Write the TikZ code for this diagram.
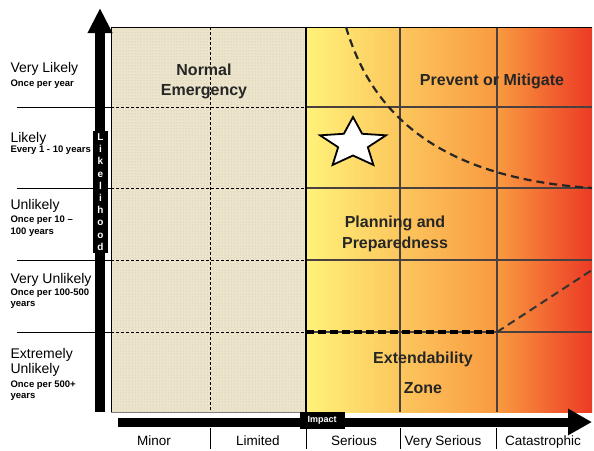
\documentclass[tikz,border=0pt]{standalone}
\usepackage{fontspec}
\setmainfont{Liberation Sans}
\usetikzlibrary{arrows.meta,patterns}
\definecolor{beige}{HTML}{ECE4CB}
\definecolor{lowyellow}{HTML}{FFF27A}
\definecolor{midorange}{HTML}{F99A40}
\definecolor{hotred}{HTML}{EC3A25}
\definecolor{gridgray}{HTML}{4A4040}
\begin{document}
\begin{tikzpicture}[x=1pt,y=-1pt,
  zone/.style={anchor=base,font=\bfseries\fontsize{16}{18}\selectfont,text=black!85},
  rowname/.style={anchor=base west,font=\fontsize{14}{16}\selectfont},
  rowfreq/.style={anchor=base west,font=\bfseries\fontsize{9.5}{11}\selectfont},
  colname/.style={anchor=base,font=\fontsize{13.5}{15}\selectfont}]
\useasboundingbox (0,0) rectangle (594,450);
% background of the matrix
\fill[beige] (111,27) rectangle (306,412);
\fill[pattern=dots,pattern color=beige!85!black] (111,27) rectangle (306,412);
\shade[left color=lowyellow,right color=midorange] (306,27) rectangle (497,412);
\shade[left color=midorange,right color=hotred] (497,27) rectangle (592,412);
% grid
\foreach \y in {107,188,260,332} {
  \draw[densely dashed,thin] (111,\y) -- (306,\y);
  \draw[gridgray,line width=1.2pt] (306,\y) -- (592,\y);
  \draw[line width=1pt] (17,\y) -- (111,\y);
}
\draw[densely dashed,thin] (210,27) -- (210,412);
\foreach \x in {400,497} \draw[gridgray,line width=1.2pt] (\x,27) -- (\x,412);
\draw[line width=1.8pt] (306,27) -- (306,412);
\draw[line width=1pt] (111,412) -- (111,27) -- (592,27);
\draw[gray,thin] (306,412) -- (111,412);
% boundary lines
\draw[black!85,line width=2.2pt,dash pattern=on 8pt off 5pt] (346,27) .. controls (372,115) and (440,178) .. (592,188);
\draw[black,line width=3.5pt,dash pattern=on 8pt off 4pt] (306,332) -- (497,332);
\draw[black!80,line width=2pt,dash pattern=on 8pt off 5pt] (497,332) -- (592,270);
% star
\draw[fill=white,line width=1.8pt,line join=miter] (353,143.5) +(-90:34.7 and 26.5) -- +(-54:15.6 and 12) -- +(-18:34.7 and 26.5) -- +(18:15.6 and 12) -- +(54:34.7 and 26.5) -- +(90:15.6 and 12) -- +(126:34.7 and 26.5) -- +(162:15.6 and 12) -- +(198:34.7 and 26.5) -- +(234:15.6 and 12) -- cycle;
% zones
\node[zone] (normal) at (204,75) {Normal};
\node[zone] (emergency) at (204,95) {Emergency};
\node[zone] (prevent) at (492,85) {Prevent or Mitigate};
\node[zone] (planning) at (395,227) {Planning and};
\node[zone] (prepared) at (395,248) {Preparedness};
\node[zone] (extend) at (423,363) {Extendability};
\node[zone] (zonelbl) at (423,393) {Zone};
% axes
\draw[line width=10pt,-{Triangle[width=23pt,length=25pt]}] (100,412) -- (100,8);
\draw[line width=9pt,-{Triangle[width=25pt,length=24pt]}] (118,422) -- (592,422);
\node[fill=black,text=white,font=\bfseries\fontsize{10}{12.2}\selectfont,align=center,
  inner sep=1pt,minimum width=15pt,minimum height=122pt] (likelihood) at (100.5,192)
  {L\\i\\k\\e\\l\\i\\h\\o\\o\\d};
\node[fill=black,text=white,font=\bfseries\fontsize{9}{10}\selectfont,
  inner sep=0pt,minimum width=45pt,minimum height=17pt] (impact) at (322,420) {Impact};
% likelihood classes
\node[rowname] (vlikely) at (7,72) {Very Likely};
\node[rowfreq] (vlikelyf) at (7,86) {Once per year};
\node[rowname] (likely) at (7,142) {Likely};
\node[rowfreq] (likelyf) at (7,152) {Every 1 - 10 years};
\node[rowname] (unlikely) at (7,209) {Unlikely};
\node[rowfreq] (unlikelyf) at (7,222) {Once per 10 –};
\node[rowfreq] (unlikelyg) at (7,234) {100 years};
\node[rowname] (vunlikely) at (7,283) {Very Unlikely};
\node[rowfreq] (vunlikelyf) at (7,295) {Once per 100-500};
\node[rowfreq] (vunlikelyg) at (7,306) {years};
\node[rowname] (extremely) at (7,358) {Extremely};
\node[rowname] (eunlikely) at (7,373) {Unlikely};
\node[rowfreq] (eunlikelyf) at (7,387) {Once per 500+};
\node[rowfreq] (eunlikelyg) at (7,398) {years};
% impact classes
\foreach \x in {210,306,400,496} \draw[line width=1pt] (\x,428) -- (\x,449);
\node[colname] (minor) at (154,445) {Minor};
\node[colname] (limited) at (258,445) {Limited};
\node[colname] (serious) at (354,445) {Serious};
\node[colname] (vserious) at (443,445) {Very Serious};
\node[colname] (catastrophic) at (543,445) {Catastrophic};
\end{tikzpicture}
\end{document}
